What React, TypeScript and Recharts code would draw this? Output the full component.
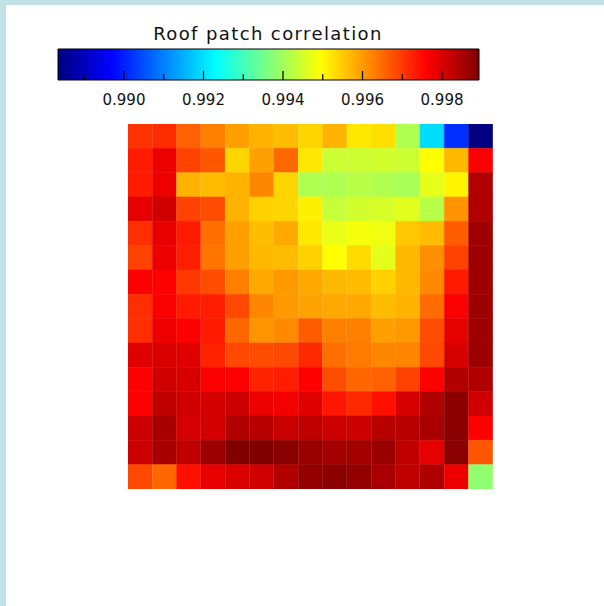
import {
  BarChart, Bar, Cell, XAxis, YAxis,
  ComposedChart, Scatter, ReferenceArea,
} from 'recharts';

const TITLE = 'Roof patch correlation';

// colour scale limits
const COLOR_MIN = 0.98834;
const COLOR_MAX = 0.99893;
const majorTicks = [0.990, 0.992, 0.994, 0.996, 0.998];
const minorTicks = [0.989, 0.991, 0.993, 0.995, 0.997];

// correlation per patch, top row first, left to right
const row00 = [0.99708, 0.99716, 0.99660, 0.99628, 0.99596, 0.99575, 0.99565, 0.99540, 0.99575, 0.99520, 0.99529, 0.99413, 0.99194, 0.99014, 0.98834];
const row01 = [0.99734, 0.99779, 0.99692, 0.99671, 0.99539, 0.99596, 0.99653, 0.99520, 0.99443, 0.99443, 0.99448, 0.99443, 0.99496, 0.99570, 0.99766];
const row02 = [0.99734, 0.99779, 0.99575, 0.99565, 0.99575, 0.99620, 0.99540, 0.99413, 0.99413, 0.99422, 0.99413, 0.99406, 0.99469, 0.99506, 0.99843];
const row03 = [0.99787, 0.99808, 0.99692, 0.99681, 0.99575, 0.99544, 0.99538, 0.99512, 0.99438, 0.99448, 0.99454, 0.99464, 0.99422, 0.99607, 0.99843];
const row04 = [0.99713, 0.99787, 0.99734, 0.99644, 0.99596, 0.99565, 0.99586, 0.99520, 0.99475, 0.99485, 0.99480, 0.99554, 0.99565, 0.99665, 0.99861];
const row05 = [0.99692, 0.99779, 0.99729, 0.99639, 0.99596, 0.99570, 0.99565, 0.99544, 0.99496, 0.99533, 0.99469, 0.99570, 0.99612, 0.99692, 0.99861];
const row06 = [0.99761, 0.99761, 0.99702, 0.99681, 0.99628, 0.99586, 0.99602, 0.99586, 0.99570, 0.99565, 0.99544, 0.99570, 0.99618, 0.99734, 0.99861];
const row07 = [0.99713, 0.99766, 0.99734, 0.99729, 0.99686, 0.99620, 0.99602, 0.99591, 0.99586, 0.99586, 0.99565, 0.99575, 0.99649, 0.99766, 0.99861];
const row08 = [0.99713, 0.99777, 0.99761, 0.99734, 0.99655, 0.99607, 0.99618, 0.99665, 0.99628, 0.99628, 0.99596, 0.99602, 0.99681, 0.99787, 0.99861];
const row09 = [0.99792, 0.99798, 0.99792, 0.99724, 0.99686, 0.99681, 0.99686, 0.99718, 0.99644, 0.99634, 0.99620, 0.99623, 0.99686, 0.99803, 0.99861];
const row10 = [0.99761, 0.99808, 0.99803, 0.99766, 0.99761, 0.99724, 0.99729, 0.99761, 0.99681, 0.99655, 0.99660, 0.99692, 0.99761, 0.99843, 0.99843];
const row11 = [0.99761, 0.99827, 0.99808, 0.99805, 0.99814, 0.99779, 0.99771, 0.99792, 0.99739, 0.99718, 0.99745, 0.99803, 0.99843, 0.99882, 0.99808];
const row12 = [0.99814, 0.99851, 0.99805, 0.99805, 0.99843, 0.99835, 0.99819, 0.99827, 0.99814, 0.99814, 0.99835, 0.99835, 0.99851, 0.99882, 0.99761];
const row13 = [0.99814, 0.99851, 0.99827, 0.99863, 0.99893, 0.99893, 0.99882, 0.99867, 0.99856, 0.99856, 0.99867, 0.99827, 0.99787, 0.99882, 0.99671];
const row14 = [0.99686, 0.99655, 0.99745, 0.99787, 0.99798, 0.99808, 0.99843, 0.99872, 0.99882, 0.99872, 0.99851, 0.99827, 0.99845, 0.99777, 0.99380];

const grid = [row00, row01, row02, row03, row04, row05, row06, row07, row08, row09, row10, row11, row12, row13, row14];

// IDL/matlab style "jet"
const jet = (v: number) => {
  const t = Math.min(1, Math.max(0, (v - COLOR_MIN) / (COLOR_MAX - COLOR_MIN)));
  const ch = (c: number) => Math.round(255 * Math.min(1, Math.max(0, 1.5 - Math.abs(4 * t - c))));
  return `rgb(${ch(3)},${ch(2)},${ch(1)})`;
};

const jetStops = [0, 0.125, 0.375, 0.625, 0.875, 1];

// one stacked column per patch column, every row a unit-height segment
const heatData = grid[0].map((_, c) => {
  const o: Record<string, number> = { col: c };
  grid.forEach((_, r) => { o[`r${r}`] = 1; });
  return o;
});

const tickData = [
  ...majorTicks.map(v => ({ v, y: 0, major: true })),
  ...minorTicks.map(v => ({ v, y: 0, major: false })),
];

const TickMark = (props: any) => {
  const { cx, cy, payload } = props;
  const len = payload.major ? 9 : 6;
  return <line x1={cx} x2={cx} y1={cy} y2={cy - len} stroke="#000" strokeWidth={1.2} />;
};

const FONT = '"DejaVu Sans", sans-serif';

export default function App() {
  return (
    <div style={{ position: 'absolute', left: 0, top: 0, width: 604, height: 606, background: '#c0e2e6', overflow: 'hidden' }}>
      <div style={{ position: 'absolute', left: 6, top: 5, width: 598, height: 601, background: '#fff' }} />

      <div style={{
        position: 'absolute', left: 0, top: 25, width: 536, textAlign: 'center',
        fontFamily: FONT, fontSize: 18, lineHeight: '17px', letterSpacing: 1.4, color: '#111',
      }}>
        {TITLE}
      </div>

      {/* colour bar */}
      <div style={{ position: 'absolute', left: 0, top: 0 }}>
        <ComposedChart width={604} height={130} data={tickData} margin={{ top: 49, left: 58, right: 125, bottom: 20 }}>
          <defs>
            <linearGradient id="jetGrad" x1="0" y1="0" x2="1" y2="0">
              {jetStops.map(s => (
                <stop key={s} offset={`${s * 100}%`} stopColor={jet(COLOR_MIN + s * (COLOR_MAX - COLOR_MIN))} />
              ))}
            </linearGradient>
          </defs>
          <XAxis
            dataKey="v"
            type="number"
            domain={[COLOR_MIN, COLOR_MAX]}
            allowDataOverflow
            ticks={majorTicks}
            tickFormatter={(v: number) => v.toFixed(3)}
            axisLine={false}
            tickLine={false}
            tickMargin={8}
            height={30}
            tick={{ fill: '#111', fontSize: 15, fontFamily: FONT }}
          />
          <YAxis dataKey="y" type="number" domain={[0, 1]} hide />
          <ReferenceArea
            x1={COLOR_MIN} x2={COLOR_MAX} y1={0} y2={1}
            fill="url(#jetGrad)" fillOpacity={1} stroke="#000" strokeWidth={1}
          />
          <Scatter dataKey="y" shape={<TickMark />} isAnimationActive={false} />
        </ComposedChart>
      </div>

      {/* patch map */}
      <div style={{ position: 'absolute', left: 128, top: 124 }}>
        <BarChart width={365} height={365} data={heatData} margin={{ top: 0, right: 0, bottom: 0, left: 0 }} barCategoryGap={0} barGap={0}>
          <XAxis dataKey="col" hide />
          <YAxis type="number" domain={[0, grid.length]} reversed hide />
          {grid.map((row, r) => (
            <Bar key={r} dataKey={`r${r}`} stackId="g" isAnimationActive={false}>
              {row.map((v, c) => (
                <Cell key={c} fill={jet(v)} stroke={jet(v)} strokeWidth={0.6} />
              ))}
            </Bar>
          ))}
        </BarChart>
      </div>
    </div>
  );
}
